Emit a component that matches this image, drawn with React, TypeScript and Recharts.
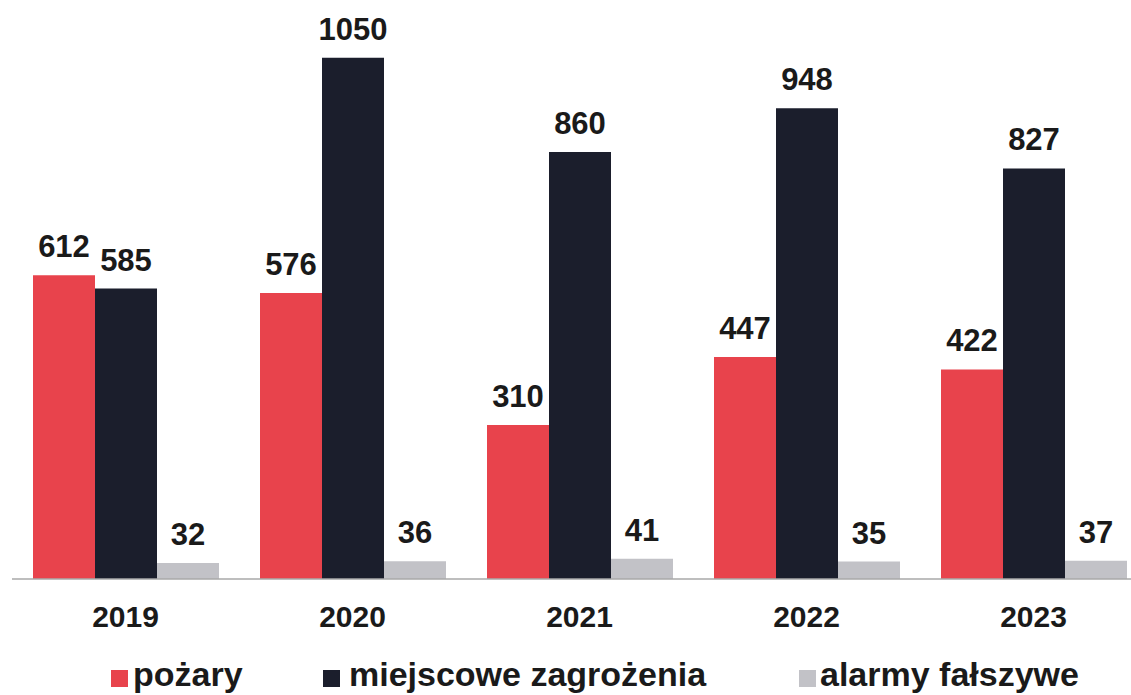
import React from "react";
import { BarChart, Bar, XAxis, YAxis, LabelList } from "recharts";

const years = ["2019", "2020", "2021", "2022", "2023"];
const pozary = [612, 576, 310, 447, 422];
const miejscowe = [585, 1050, 860, 948, 827];
const alarmy = [32, 36, 41, 35, 37];

const seriesNames = ["pożary", "miejscowe zagrożenia", "alarmy fałszywe"];
const colors = ["#e8434c", "#1b1e2c", "#c2c2c7"];

const data = years.map((y, i) => ({
  year: y,
  pozary: pozary[i],
  miejscowe: miejscowe[i],
  alarmy: alarmy[i],
}));

const FONT = "'Liberation Sans', Arial, Helvetica, sans-serif";

const makeLabel = (gap: number) => (props: any) => {
  const { x, y, width, value } = props;
  return (
    <text
      x={Number(x) + Number(width) / 2}
      y={Number(y) - gap}
      textAnchor="middle"
      fontFamily={FONT}
      fontWeight="bold"
      fontSize={31}
      fill="#1a1a1a"
    >
      {value}
    </text>
  );
};

const Tick = (props: any) => {
  const { x, y, payload } = props;
  return (
    <text
      x={x}
      y={Number(y) + 48}
      textAnchor="middle"
      fontFamily={FONT}
      fontWeight="bold"
      fontSize={30}
      fill="#1a1a1a"
    >
      {payload.value}
    </text>
  );
};

const legendPos = [
  { sq: 111, tx: 133 },
  { sq: 323, tx: 349 },
  { sq: 799, tx: 820 },
];

export default function App() {
  return (
    <div
      style={{
        position: "absolute",
        left: 0,
        top: 0,
        width: 1131,
        height: 695,
        overflow: "hidden",
        background: "#fff",
      }}
    >
      <BarChart
        width={1160}
        height={695}
        data={data}
        margin={{ top: 8, right: 13, bottom: 86, left: 12 }}
        barCategoryGap={21}
        barGap={0}
      >
        <XAxis
          dataKey="year"
          tickLine={false}
          tickSize={0}
          tickMargin={0}
          axisLine={{ stroke: "#a8a8a8", strokeWidth: 1.5 }}
          tick={<Tick />}
          interval={0}
        />
        <YAxis hide domain={[0, 1150]} />
        <Bar dataKey="pozary" fill={colors[0]} isAnimationActive={false}>
          <LabelList dataKey="pozary" content={makeLabel(18)} />
        </Bar>
        <Bar dataKey="miejscowe" fill={colors[1]} isAnimationActive={false}>
          <LabelList dataKey="miejscowe" content={makeLabel(18)} />
        </Bar>
        <Bar dataKey="alarmy" fill={colors[2]} isAnimationActive={false}>
          <LabelList dataKey="alarmy" content={makeLabel(18)} />
        </Bar>
      </BarChart>
      {seriesNames.map((name, i) => (
        <React.Fragment key={name}>
          <div
            style={{
              position: "absolute",
              left: legendPos[i].sq,
              top: 670,
              width: 17,
              height: 17,
              background: colors[i],
            }}
          />
          <div
            style={{
              position: "absolute",
              left: legendPos[i].tx,
              top: 655,
              fontFamily: FONT,
              fontWeight: "bold",
              fontSize: 34,
              lineHeight: "38px",
              color: "#1a1a1a",
              whiteSpace: "nowrap",
            }}
          >
            {name}
          </div>
        </React.Fragment>
      ))}
    </div>
  );
}
